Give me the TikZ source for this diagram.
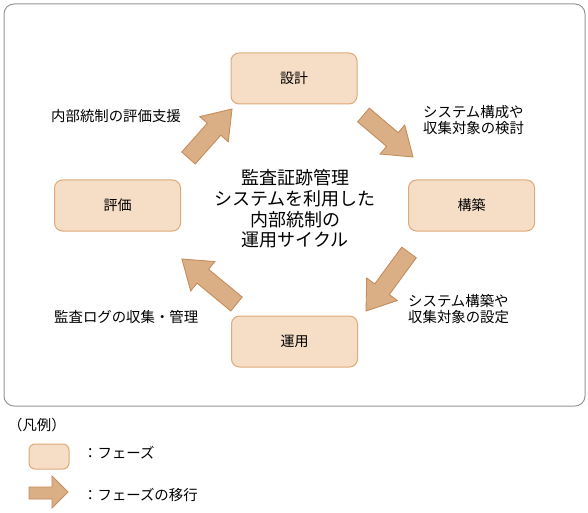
\documentclass[tikz,border=0pt]{standalone}
\usepackage{fontspec}
\setmainfont{Noto Sans CJK JP}
\newcommand\BlockArrow[3]{%
  \begin{scope}[shift={#1},rotate=#2]
    \draw[arrowshape] (0,-9) -- ({#3-27},-9) -- ({#3-27},-19) -- (#3,0) -- ({#3-27},19) -- ({#3-27},9) -- (0,9) -- cycle;
  \end{scope}}
\definecolor{boxfill}{RGB}{245,221,198}
\definecolor{boxline}{RGB}{222,170,122}
\definecolor{arrfill}{RGB}{218,175,134}
\definecolor{arrline}{RGB}{198,140,90}
\definecolor{frameline}{RGB}{150,150,150}
\tikzset{
  phase/.style={draw=boxline, fill=boxfill, line width=1pt, rounded corners=8pt,
    minimum width=126pt, minimum height=51pt, font=\fontsize{14}{16}\selectfont},
  arrowshape/.style={draw=arrline, fill=arrfill, line width=0.9pt, line join=miter},
  lbl/.style={anchor=west, inner sep=0pt, align=left, font=\fontsize{14.4}{16}\selectfont},
}
\begin{document}
\begin{tikzpicture}[x=1pt,y=1pt]
\useasboundingbox (0,0) rectangle (588,512);
\draw[frameline, line width=1pt, rounded corners=10pt] (4,106) rectangle (585,508);

\node[phase] (sekkei) at (294,433.5) {設計};
\node[phase] (kouchiku) at (471.5,306.5) {構築};
\node[phase] (hyouka) at (117.5,306.5) {評価};
\node[phase] (unyou) at (294.5,170.5) {運用};

\node[align=center, inner sep=0pt, font=\fontsize{18}{20.7}\selectfont] (center) at (295,303)
  {監査証跡管理\\システムを利用した\\内部統制の\\運用サイクル};

\BlockArrow{(188.5,354)}{48.4}{65.5}
\BlockArrow{(363.5,397)}{-40.3}{64.9}
\BlockArrow{(409,259.5)}{233.7}{72.6}
\BlockArrow{(236.5,208)}{140.5}{70.7}

\node[lbl] (l1) at (51,396) {内部統制の評価支援};
\node[lbl] (l2) at (423,392) {システム構成や\\収集対象の検討};
\node[lbl] (l3) at (408,203) {システム構築や\\収集対象の設定};
\node[lbl] (l4) at (54,195) {監査ログの収集・管理};

\node[lbl] (legend) at (8,87) {（凡例）};
\draw[draw=boxline, fill=boxfill, line width=1pt, rounded corners=6pt] (29,43) rectangle (69,68);
\node[lbl] (lg1) at (83,59) {：フェーズ};
\draw[arrowshape] (29,13) -- (52,13) -- (52,4) -- (68,20) -- (52,36) -- (52,25) -- (29,25) -- cycle;
\node[lbl] (lg2) at (83,17) {：フェーズの移行};
\end{tikzpicture}
\end{document}
